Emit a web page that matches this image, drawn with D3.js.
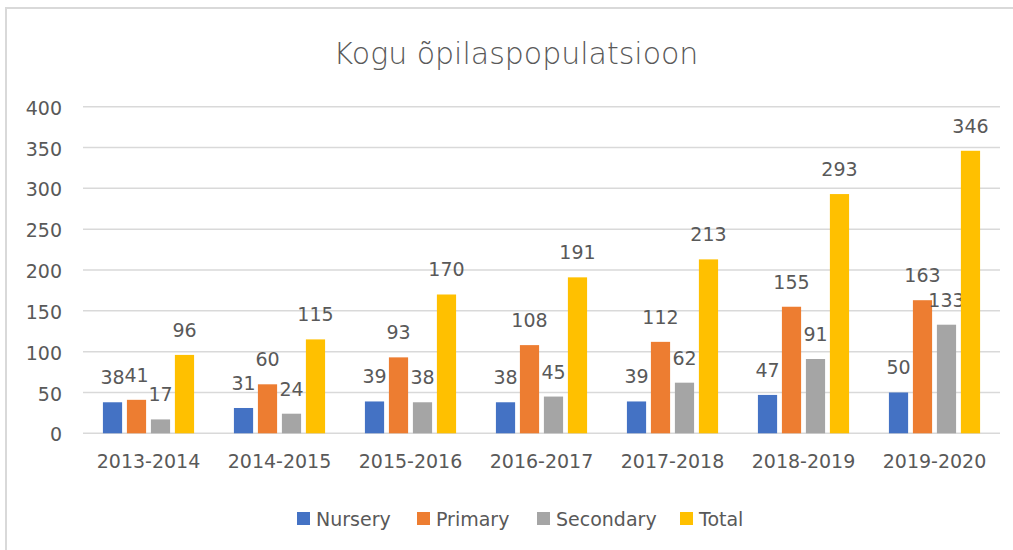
<!DOCTYPE html>
<html>
<head>
<meta charset="utf-8">
<script src="https://cdn.jsdelivr.net/npm/d3@7"></script>
<style>
  body { margin: 0; background: #fff; overflow: hidden; }
  svg { display: block; }
  text { font-family: "DejaVu Sans", sans-serif; fill: #595959; }
</style>
</head>
<body>
<div id="chart"></div>
<script>
// chart data
var years = ["2013-2014", "2014-2015", "2015-2016", "2016-2017", "2017-2018", "2018-2019", "2019-2020"];
var seriesNames = ["Nursery", "Primary", "Secondary", "Total"];
var nursery = [38, 31, 39, 38, 39, 47, 50];
var primary = [41, 60, 93, 108, 112, 155, 163];
var secondary = [17, 24, 38, 45, 62, 91, 133];
var total = [96, 115, 170, 191, 213, 293, 346];
var yTicks = [0, 50, 100, 150, 200, 250, 300, 350, 400];
var colors = ["#4472C4", "#ED7D31", "#A5A5A5", "#FFC000"];

var svgWidth = 1013;
var svgHeight = 550;
var margin = { top: 106.7, right: 13, bottom: 116.7, left: 83 };
var width = svgWidth - margin.left - margin.right;
var height = svgHeight - margin.top - margin.bottom;

var svg = d3.select("#chart")
    .append("svg")
    .attr("width", svgWidth)
    .attr("height", svgHeight);

// outer frame (only top/left edges fall inside the picture)
svg.append("rect")
    .attr("x", 6).attr("y", 8)
    .attr("width", 1030).attr("height", 570)
    .attr("fill", "none")
    .attr("stroke", "#d9d9d9")
    .attr("stroke-width", 2);

svg.append("text")
    .attr("x", 516)
    .attr("y", 64)
    .attr("text-anchor", "middle")
    .style("font-size", "30px")
    .style("font-weight", 300)
    .text("Kogu õpilaspopulatsioon");

var chartGroup = svg.append("g")
    .attr("transform", `translate(${margin.left}, ${margin.top})`);

var rows = years.map(function (y, i) {
    return { year: y, values: [nursery[i], primary[i], secondary[i], total[i]] };
});

var x0 = d3.scaleBand()
    .domain(years)
    .range([0, width]);

var x1 = d3.scaleBand()
    .domain(seriesNames)
    .range([0, x0.bandwidth()])
    .paddingInner(0.2)
    .paddingOuter(0.83);

var yScale = d3.scaleLinear()
    .domain([0, 400])
    .range([height, 0]);

// gridlines
chartGroup.selectAll(".grid")
    .data(yTicks)
    .enter()
    .append("line")
    .attr("x1", 0)
    .attr("x2", width)
    .attr("y1", d => yScale(d))
    .attr("y2", d => yScale(d))
    .attr("stroke", "#d9d9d9")
    .attr("stroke-width", 1.5);

// y axis labels
var leftAxis = d3.axisLeft(yScale).tickValues(yTicks).tickSize(0).tickPadding(21);
var yAxisG = chartGroup.append("g").call(leftAxis);
yAxisG.select(".domain").remove();
yAxisG.selectAll("text")
    .style("font-size", "19px")
    .style("font-family", "DejaVu Sans")
    .attr("fill", "#595959")
    .attr("dy", "0.4em");

// x axis labels
var bottomAxis = d3.axisBottom(x0).tickSize(0).tickPadding(21);
var xAxisG = chartGroup.append("g")
    .attr("transform", `translate(0, ${height})`)
    .call(bottomAxis);
xAxisG.select(".domain").remove();
xAxisG.selectAll("text")
    .style("font-size", "19px")
    .style("font-family", "DejaVu Sans")
    .attr("fill", "#595959");

// bars
var groups = chartGroup.selectAll(".yearGroup")
    .data(rows)
    .enter()
    .append("g")
    .attr("transform", d => `translate(${x0(d.year)}, 0)`);

var cells = groups.selectAll("g")
    .data(d => d.values.map((v, j) => ({ name: seriesNames[j], value: v, idx: j })))
    .enter()
    .append("g");

cells.append("rect")
    .attr("x", d => x1(d.name))
    .attr("y", d => yScale(d.value))
    .attr("width", x1.bandwidth())
    .attr("height", d => height - yScale(d.value))
    .attr("fill", d => colors[d.idx]);

cells.append("text")
    .attr("x", d => x1(d.name) + x1.bandwidth() / 2)
    .attr("y", d => yScale(d.value) - 18)
    .attr("text-anchor", "middle")
    .style("font-size", "19px")
    .text(d => d.value);

// legend
var legendX = [297, 417, 537, 680];
var legend = svg.selectAll(".legend")
    .data(seriesNames)
    .enter()
    .append("g")
    .attr("transform", (d, i) => `translate(${legendX[i]}, 512)`);

legend.append("rect")
    .attr("width", 13)
    .attr("height", 13)
    .attr("fill", (d, i) => colors[i]);

legend.append("text")
    .attr("x", 19)
    .attr("y", 14)
    .style("font-size", "19px")
    .text(d => d);
</script>
</body>
</html>
